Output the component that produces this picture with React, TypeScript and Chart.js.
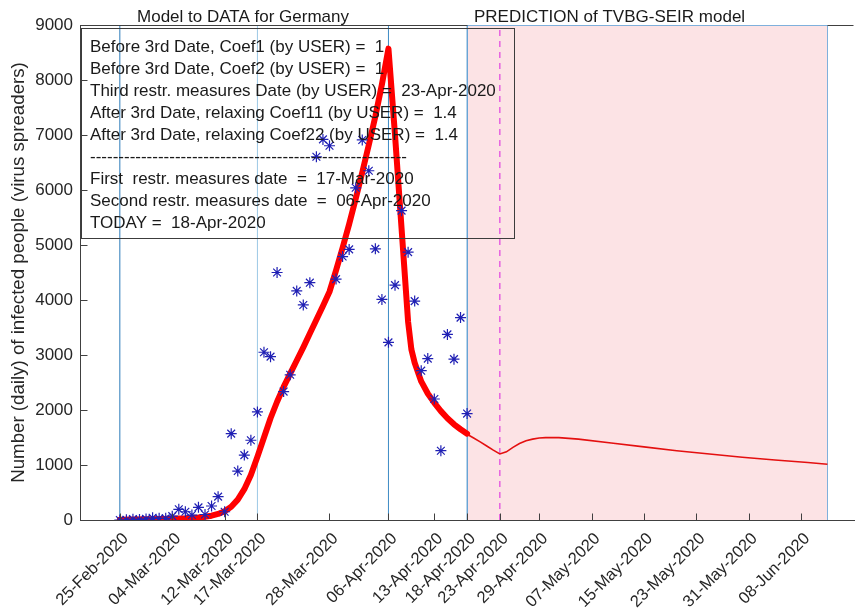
import React, { useEffect, useRef } from 'react';
import { Chart, registerables } from 'chart.js';

Chart.register(...registerables);

const FONT = '"Liberation Sans", Arial, Helvetica, sans-serif';
const AXIS_COLOR = '#404040';
const TEXT_COLOR = '#262626';

// Day index 0 = 25-Feb-2020
const tickDays = [0, 8, 16, 21, 32, 41, 48, 53, 58, 64, 72, 80, 88, 96, 104];
const tickLabels = [
  '25-Feb-2020', '04-Mar-2020', '12-Mar-2020', '17-Mar-2020', '28-Mar-2020',
  '06-Apr-2020', '13-Apr-2020', '18-Apr-2020', '23-Apr-2020', '29-Apr-2020',
  '07-May-2020', '15-May-2020', '23-May-2020', '31-May-2020', '08-Jun-2020',
];

const yTicks = [0, 1000, 2000, 3000, 4000, 5000, 6000, 7000, 8000, 9000];

// Observed daily infections (blue asterisks), 25-Feb .. 18-Apr
const observedDays = [
  0, 1, 2, 3, 4, 5, 6, 7, 8, 9, 10, 11, 12, 13, 14, 15, 16, 17, 18, 19, 20,
  21, 22, 23, 24, 25, 26, 27, 28, 29, 30, 31, 32, 33, 34, 35, 36, 37, 38, 39,
  40, 41, 42, 43, 44, 45, 46, 47, 48, 49, 50, 51, 52, 53,
];
const observedCases = [
  0, 5, 15, 10, 20, 40, 30, 30, 70, 195, 150, 90, 230, 100, 255, 425, 150,
  1570, 890, 1180, 1450, 1965, 3050, 2970, 4500, 2335, 2640, 4165, 3910, 4315,
  6605, 6920, 6805, 4380, 4790, 4920, 6040, 6910, 6350, 4930, 4010, 3230, 4270,
  5625, 4870, 3980, 2715, 2935, 2200, 1260, 3375, 2925, 3680, 1935,
];

// Fitted model (thick red), 25-Feb .. 18-Apr
const modelDays = [
  0, 2, 4, 6, 8, 10, 12, 13, 14, 15, 16, 17, 18, 19, 20, 21, 22, 23, 24, 25,
  26, 27, 28, 29, 30, 31, 32, 33, 34, 35, 36, 37, 38, 39, 40, 41, 42, 43, 44,
  44.5, 45, 46, 47, 48, 49, 50, 51, 52, 53,
];
const modelValues = [
  5, 8, 12, 16, 22, 30, 45, 58, 78, 110, 160, 240, 370, 560, 820, 1150, 1500,
  1850, 2150, 2420, 2660, 2900, 3140, 3390, 3640, 3890, 4150, 4540, 4950, 5380,
  5840, 6320, 6820, 7340, 7920, 8570, 7000, 5300, 3600, 3100, 2860, 2520, 2300,
  2130, 1980, 1850, 1740, 1650, 1570,
];

// Prediction (thin red), 18-Apr .. 12-Jun
const predictionDays = [
  53, 54, 55, 56, 57, 58, 59, 60, 61, 62, 63, 64, 65, 66, 67, 70, 75, 80, 85,
  90, 95, 100, 105, 108,
];
const predictionValues = [
  1560, 1490, 1420, 1345, 1270, 1200, 1240, 1320, 1390, 1440, 1470, 1490, 1498,
  1500, 1498, 1470, 1400, 1330, 1260, 1200, 1140, 1090, 1045, 1015,
];

// Vertical date markers: 25-Feb, 17-Mar, 06-Apr, 18-Apr
const markerDays = [0, 21, 41, 53];
const markerColors = ['#2b7bba', '#9cc8e6', '#3d8ac4', '#5a9bd0'];
const thirdDateDay = 58; // 23-Apr
const predictionStart = 53;
const predictionEnd = 108;

const infoLines = [
  'Before 3rd Date, Coef1 (by USER) =  1',
  'Before 3rd Date, Coef2 (by USER) =  1',
  'Third restr. measures Date (by USER) =  23-Apr-2020',
  'After 3rd Date, relaxing Coef11 (by USER) =  1.4',
  'After 3rd Date, relaxing Coef22 (by USER) =  1.4',
  '--------------------------------------------------------',
  'First  restr. measures date  =  17-Mar-2020',
  'Second restr. measures date  =  06-Apr-2020',
  'TODAY =  18-Apr-2020',
];

const leftTitle = 'Model to DATA for Germany';
const rightTitle = 'PREDICTION of TVBG-SEIR model';
const yTitle = 'Number (daily) of infected people (virus spreaders)';

const decorPlugin = {
  id: 'decor',
  beforeDatasetsDraw(chart: any) {
    const { ctx, scales } = chart;
    const x = scales.x;
    const y = scales.y;
    const x0 = Math.round(x.getPixelForValue(predictionStart)) + 0.5;
    const x1 = Math.round(x.getPixelForValue(predictionEnd)) + 0.5;
    const yt = Math.round(y.getPixelForValue(9000)) + 0.5;
    const yb = Math.round(y.getPixelForValue(0)) + 0.5;
    ctx.save();
    ctx.fillStyle = '#fce3e5';
    ctx.fillRect(x0, yt, x1 - x0, yb - yt);
    ctx.strokeStyle = '#7fb0dc';
    ctx.lineWidth = 1;
    ctx.strokeRect(x0, yt, x1 - x0, yb - yt);
    ctx.restore();
  },
  afterDatasetsDraw(chart: any) {
    const { ctx, scales, chartArea: ca } = chart;
    const x = scales.x;
    const y = scales.y;
    const L = Math.round(ca.left) + 0.5;
    const R = Math.round(ca.right) - 0.5;
    const T = Math.round(ca.top) + 0.5;
    const B = Math.round(ca.bottom) + 0.5;
    const x0 = Math.round(x.getPixelForValue(predictionStart)) + 0.5;
    const x1 = Math.round(x.getPixelForValue(predictionEnd)) + 0.5;
    ctx.save();
    ctx.strokeStyle = AXIS_COLOR;
    ctx.lineWidth = 1;
    ctx.beginPath();
    ctx.moveTo(L, T); ctx.lineTo(x0, T);
    ctx.moveTo(x1, T); ctx.lineTo(R, T);
    ctx.moveTo(L, B); ctx.lineTo(R, B);
    ctx.moveTo(L, T); ctx.lineTo(L, B);
    // inward ticks
    for (const d of tickDays) {
      const px = Math.round(x.getPixelForValue(d)) + 0.5;
      ctx.moveTo(px, B); ctx.lineTo(px, B - 7);
    }
    for (const v of yTicks) {
      const py = Math.round(y.getPixelForValue(v)) + 0.5;
      ctx.moveTo(L, py); ctx.lineTo(L + 7, py);
    }
    ctx.stroke();

    // annotation box
    ctx.strokeStyle = '#3c3c3c';
    ctx.strokeRect(L + 1, T + 3, 433, 210);
    ctx.fillStyle = '#1a1a1a';
    ctx.font = `17px ${FONT}`;
    ctx.textAlign = 'left';
    ctx.textBaseline = 'alphabetic';
    infoLines.forEach((line, i) => {
      ctx.fillText(line, ca.left + 10, ca.top + 26.5 + 22 * i);
    });

    // titles
    ctx.textAlign = 'center';
    ctx.fillText(leftTitle, 243, 22);
    ctx.textAlign = 'left';
    ctx.fillText(rightTitle, x0 + 6.5, 21.5);
    ctx.restore();
  },
};

export default function App() {
  const canvasRef = useRef<HTMLCanvasElement | null>(null);

  useEffect(() => {
    const canvas = canvasRef.current;
    if (!canvas) return;

    const stars = observedDays.map((d, i) => ({ x: d, y: observedCases[i] }));
    const model = modelDays.map((d, i) => ({ x: d, y: modelValues[i] }));
    const pred = predictionDays.map((d, i) => ({ x: d, y: predictionValues[i] }));

    const markerSets = markerDays.map((d, i) => ({
      type: 'line' as const,
      data: [{ x: d, y: 0 }, { x: d, y: 9000 }],
      borderColor: markerColors[i],
      borderWidth: 1,
      pointRadius: 0,
      showLine: true,
    }));

    const chart = new Chart(canvas, {
      type: 'scatter',
      data: {
        datasets: [
          {
            type: 'scatter',
            data: stars,
            pointStyle: 'star',
            pointRadius: 5.5,
            pointBorderWidth: 1.2,
            borderColor: '#2020b4',
            backgroundColor: '#2020b4',
            showLine: false,
          },
          {
            type: 'line',
            data: model,
            borderColor: '#ff0000',
            borderWidth: 6,
            pointRadius: 0,
            borderJoinStyle: 'round',
            borderCapStyle: 'round',
            showLine: true,
            tension: 0,
          },
          {
            type: 'line',
            data: pred,
            borderColor: '#e41010',
            borderWidth: 1.6,
            pointRadius: 0,
            showLine: true,
            tension: 0,
          },
          ...markerSets,
          {
            type: 'line',
            data: [{ x: thirdDateDay, y: 0 }, { x: thirdDateDay, y: 8950 }],
            borderColor: '#e040e0',
            borderWidth: 1.2,
            borderDash: [6, 5],
            pointRadius: 0,
            showLine: true,
          },
        ] as any,
      },
      options: {
        responsive: false,
        maintainAspectRatio: false,
        animation: false,
        events: [],
        layout: { padding: { left: 0, right: 0, top: 25, bottom: 0 } },
        plugins: {
          legend: { display: false },
          tooltip: { enabled: false },
          title: { display: false },
        },
        scales: {
          x: {
            type: 'linear',
            min: -6.08,
            max: 112.1,
            afterBuildTicks: (scale: any) => {
              scale.ticks = tickDays.map((v) => ({ value: v }));
            },
            afterFit: (scale: any) => {
              scale.height = 93;
              scale.paddingLeft = 0;
              scale.paddingRight = 0;
            },
            ticks: {
              autoSkip: false,
              minRotation: 45,
              maxRotation: 45,
              padding: 9,
              labelOffset: 6,
              color: TEXT_COLOR,
              font: { family: FONT, size: 16.5 },
              callback: (value: any) => {
                const idx = tickDays.indexOf(Number(value));
                return idx >= 0 ? tickLabels[idx] : '';
              },
            },
            grid: { display: true, color: 'transparent', drawTicks: false },
            border: { display: true, color: AXIS_COLOR },
          },
          y: {
            type: 'linear',
            min: 0,
            max: 9000,
            afterBuildTicks: (scale: any) => {
              scale.ticks = yTicks.map((v) => ({ value: v }));
            },
            afterFit: (scale: any) => {
              scale.width = 80;
              scale.paddingTop = 0;
              scale.paddingBottom = 0;
            },
            ticks: {
              padding: 7,
              color: TEXT_COLOR,
              font: { family: FONT, size: 17 },
              callback: (value: any) => String(value),
            },
            title: {
              display: true,
              text: yTitle,
              color: TEXT_COLOR,
              font: { family: FONT, size: 18.7 },
              padding: { top: 8, bottom: 0 },
            },
            grid: { display: true, color: 'transparent', drawTicks: false },
            border: { display: true, color: AXIS_COLOR },
          },
        },
      } as any,
      plugins: [decorPlugin],
    });

    return () => {
      chart.destroy();
    };
  }, []);

  // The canvas is 1px wider than the window: Chart.js reserves half the thick
  // line's width (3px) on the right, so this puts the plot edge at x = 858.
  return (
    <div style={{ position: 'absolute', left: 0, top: 0, width: 860, height: 613, overflow: 'hidden', background: '#ffffff' }}>
      <canvas ref={canvasRef} width={861} height={613} style={{ display: 'block' }} />
    </div>
  );
}
